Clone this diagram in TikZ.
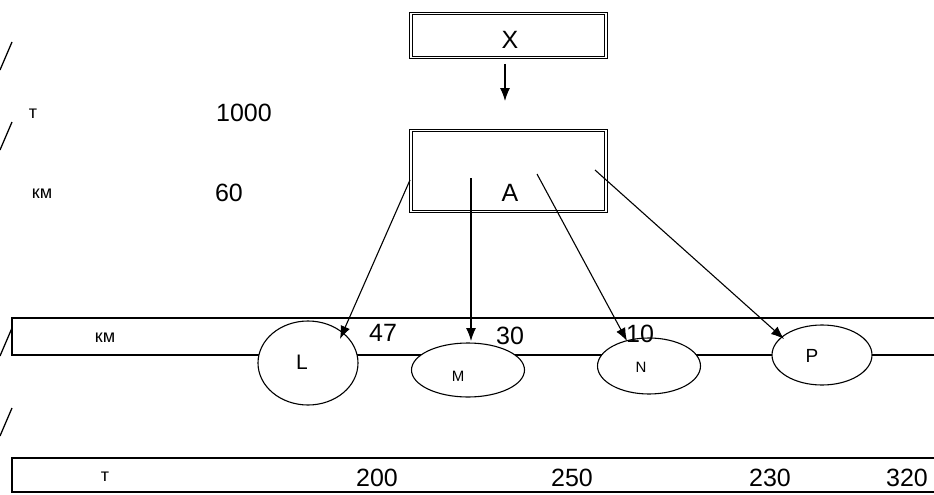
\documentclass[tikz,border=0pt]{standalone}
\usepackage{fontspec}
\setmainfont{Liberation Sans}
\usetikzlibrary{arrows.meta,shapes.geometric}

\begin{document}
\begin{tikzpicture}[x=1pt,y=-1pt,line width=1.1pt,
        box/.style={draw, double, double distance=1.8pt, line width=.9pt, minimum width=195, inner sep=0pt},
        town/.style={draw, ellipse, fill=white, line width=1.1pt, inner sep=0pt},
        arr/.style={line width=1.1pt, -{Latex[length=13pt,width=10pt]}},
        num/.style={font=\fontsize{25}{25}\selectfont},
        unit/.style={font=\fontsize{18}{18}\selectfont}]
        \useasboundingbox (0,0) rectangle (934,495);
        \clip (0,0) rectangle (934,495);
        %left marks
        \foreach \y in {42,122,328,408}
            \draw[line width=1.3pt] (0,\y+28) -- (12,\y);
        %boxes
        \node[box, minimum height=44] (x) at (508.5,35.5) {};
        \node[num] (xt) at (510,40) {X};
        \node[box, minimum height=81] (a) at (508.5,171) {};
        \node[num] (at) at (510,193) {A};
        \coordinate (xa) at (505,64);
        \coordinate (xb) at (505,101);
        \draw[arr] (xa) -- (xb);
        %load
        \node[unit] (t1) at (33,114) {т};
        \node[num] (n1000) at (244,113) {1000};
        \node[unit] (km1) at (42,194) {км};
        \node[num] (n60) at (229,193) {60};
        %distance band
        \draw (12,318) rectangle (950,355);
        \node[unit] (km2) at (105,338) {км};
        %towns
        \node[town, minimum width=100, minimum height=84] (l) at (308,363) {};
        \node[town, minimum width=113, minimum height=54] (m) at (468,370) {};
        \node[town, minimum width=103, minimum height=56] (n) at (649,366) {};
        \node[town, minimum width=100, minimum height=60] (p) at (822,355) {};
        \node[font=\fontsize{21}{21}\selectfont] (lt) at (302,362) {L};
        \node[font=\fontsize{15}{15}\selectfont] (mt) at (458,376) {M};
        \node[font=\fontsize{15}{15}\selectfont] (nt) at (641,367) {N};
        \node[font=\fontsize{19}{19}\selectfont] (pt) at (812,356) {P};
        \node[num] (d47) at (383,333) {47};
        \node[num] (d30) at (510,336) {30};
        \node[num] (d10) at (640,334) {10};
        %routes
        \coordinate (a1) at (410,180);
        \coordinate (a2) at (471,178);
        \coordinate (a3) at (537,174);
        \coordinate (a4) at (595,170);
        \coordinate (l1) at (340,339);
        \coordinate (m1) at (471,341);
        \coordinate (n1) at (627,341);
        \coordinate (p1) at (784,339);
        \draw[arr] (a1) -- (l1);
        \draw[arr] (a2) -- (m1);
        \draw[arr] (a3) -- (n1);
        \draw[arr] (a4) -- (p1);
        %tonnage band
        \draw (12,458) rectangle (950,492);
        \node[unit] (t2) at (105,477) {т};
        \node[num] (n200) at (377,478) {200};
        \node[num] (n250) at (572,478) {250};
        \node[num] (n230) at (770,478) {230};
        \node[num] (n320) at (907,478) {320};
\end{tikzpicture}
\end{document}
